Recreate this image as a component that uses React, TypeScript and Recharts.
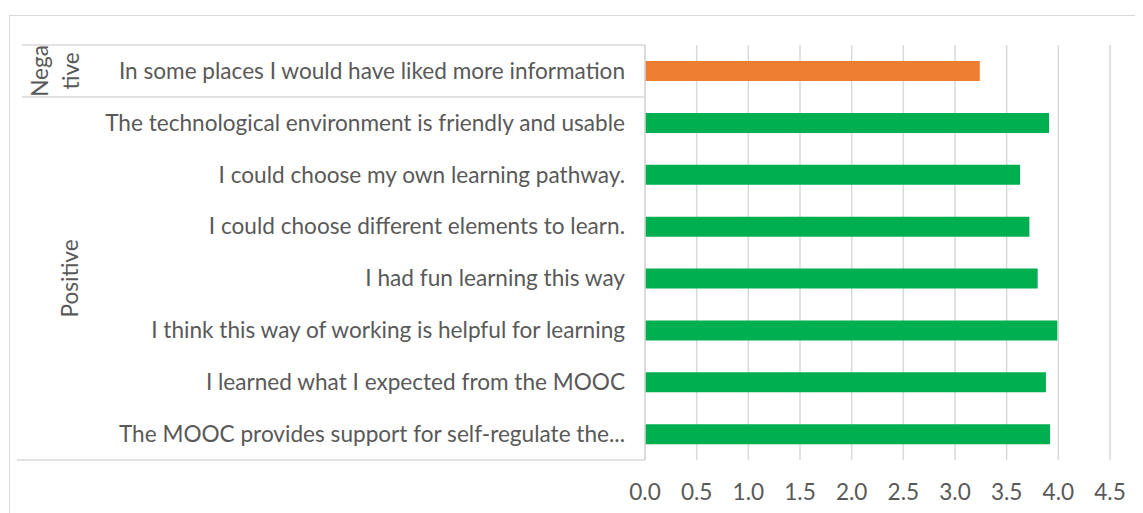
import React from 'react';
import { BarChart, Bar, XAxis, YAxis, CartesianGrid, Cell } from 'recharts';

const categories = [
  'In some places I would have liked more information',
  'The technological environment is friendly and usable',
  'I could choose my own learning pathway.',
  'I could choose different elements to learn.',
  'I had fun learning this way',
  'I think this way of working is helpful for learning',
  'I learned what I expected from the MOOC',
  'The MOOC provides support for self-regulate the...',
];
const values = [3.24, 3.91, 3.63, 3.72, 3.8, 3.99, 3.88, 3.92];
const groups = ['Negative', 'Positive', 'Positive', 'Positive', 'Positive', 'Positive', 'Positive', 'Positive'];
const groupLabelLines: Record<string, string[]> = {
  Negative: ['Nega', 'tive'],
  Positive: ['Positive'],
};
const groupColors: Record<string, string> = { Negative: '#ED7D31', Positive: '#00B050' };
const xTicks = [0, 0.5, 1, 1.5, 2, 2.5, 3, 3.5, 4, 4.5];

const data = categories.map((c, i) => ({ label: c, value: values[i], group: groups[i] }));

const CHART_W = 1135;
const CHART_H = 505;
const MARGIN = { top: 37, right: 33, bottom: 0, left: 0 };
const X_AXIS_H = 53;
const Y_AXIS_W = 637;
const FONT = 'Lato, "Open Sans", sans-serif';
const FS = 22.6;
const TEXT = '#595959';
const GRID = '#D9D9D9';
const BAND = (CHART_H - MARGIN.top - MARGIN.bottom - X_AXIS_H) / categories.length;

function CategoryTick(props: any) {
  const { x, y, payload, index } = props;
  const i = index;
  const n = categories.length;
  const g = groups[i];
  const isStart = i === 0 || groups[i - 1] !== g;
  const isEnd = i === n - 1 || groups[i + 1] !== g;
  let end = i;
  while (end + 1 < n && groups[end + 1] === g) end++;
  const centerY = y + ((end - i) / 2) * BAND;
  const lines = groupLabelLines[g] || [g];
  const lastLineX = lines.length > 1 ? 63 : 62;
  return (
    <g>
      <text x={x} y={y} dy="0.35em" textAnchor="end" fill={TEXT} fontSize={FS} fontFamily={FONT}>
        {payload.value}
      </text>
      {i === 0 && (
        <line x1={14} x2={Y_AXIS_W} y1={y - BAND / 2} y2={y - BAND / 2} stroke={GRID} strokeWidth={1.5} />
      )}
      {isEnd && (
        <line
          x1={i === n - 1 ? 9 : 14}
          x2={Y_AXIS_W}
          y1={y + BAND / 2}
          y2={y + BAND / 2}
          stroke={GRID}
          strokeWidth={1.5}
        />
      )}
      {isStart &&
        lines.map((ln, k) => {
          const cx = lastLineX - (lines.length - 1 - k) * 31;
          return (
            <text
              key={k}
              transform={`translate(${cx},${centerY}) rotate(-90)`}
              textAnchor="middle"
              dy="0.35em"
              fill={TEXT}
              fontSize={FS}
              fontFamily={FONT}
            >
              {ln}
            </text>
          );
        })}
    </g>
  );
}

function ValueTick(props: any) {
  const { x, y, payload } = props;
  return (
    <text x={x} y={y} dy="0.71em" textAnchor="middle" fill={TEXT} fontSize={FS} fontFamily={FONT}>
      {Number(payload.value).toFixed(1)}
    </text>
  );
}

export default function App() {
  return (
    <div style={{ position: 'relative', width: CHART_W, height: CHART_H, overflow: 'hidden', background: '#fff' }}>
      <div
        style={{
          position: 'absolute',
          left: 1,
          top: 7,
          width: 3000,
          height: 3000,
          border: `1.5px solid ${GRID}`,
          boxSizing: 'border-box',
        }}
      />
      <div style={{ position: 'absolute', left: 0, top: 0 }}>
        <BarChart width={CHART_W} height={CHART_H} data={data} layout="vertical" margin={MARGIN}>
          <CartesianGrid horizontal={false} stroke={GRID} strokeWidth={1.5} />
          <XAxis
            type="number"
            domain={[0, 4.5]}
            ticks={xTicks}
            interval={0}
            axisLine={false}
            tickLine={false}
            tickSize={0}
            tickMargin={24}
            height={X_AXIS_H}
            tick={<ValueTick />}
          />
          <YAxis
            type="category"
            dataKey="label"
            width={Y_AXIS_W}
            axisLine={{ stroke: GRID, strokeWidth: 1.5 }}
            tickLine={false}
            tickSize={0}
            tickMargin={20}
            interval={0}
            tick={<CategoryTick />}
          />
          <Bar dataKey="value" barSize={20} isAnimationActive={false}>
            {data.map((d, i) => (
              <Cell key={i} fill={groupColors[d.group]} />
            ))}
          </Bar>
        </BarChart>
      </div>
    </div>
  );
}
